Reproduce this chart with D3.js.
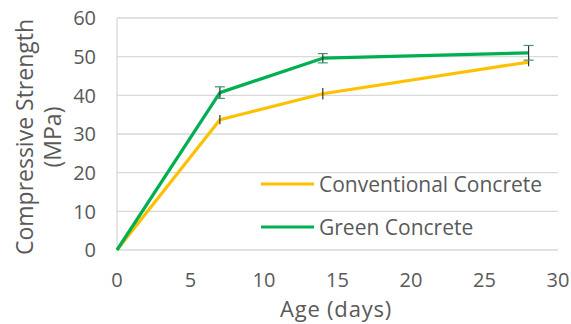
<!DOCTYPE html>
<html><head><meta charset="utf-8">
<script src="https://cdn.jsdelivr.net/npm/d3@7"></script>
<style>body{margin:0;background:#fff}text{font-family:"Open Sans",sans-serif;fill:#595959}</style>
</head><body><svg id="c" width="571" height="324"></svg>
<script>
const ages = [0, 7, 14, 28];
const conventional = [0, 33.7, 40.4, 48.6];
const conventionalErr = [0, 1.2, 1.5, 1.1];
const green = [0, 40.7, 49.6, 51.0];
const greenErr = [0, 1.5, 1.2, 1.9];
const seriesNames = ["Conventional Concrete", "Green Concrete"];
const seriesColors = ["#FFC000", "#00B050"];
const xTicks = [0, 5, 10, 15, 20, 25, 30];
const yTicks = [0, 10, 20, 30, 40, 50, 60];

const svg = d3.select("#c");
const x = d3.scaleLinear().domain([0, 30]).range([117, 558]);
const y = d3.scaleLinear().domain([0, 60]).range([250, 18]);

svg.append("g").selectAll("line").data(yTicks).join("line")
  .attr("x1", x(0)).attr("x2", x(30)).attr("y1", d => y(d)).attr("y2", d => y(d))
  .attr("stroke", "#d9d9d9").attr("stroke-width", 1.3);
svg.append("line").attr("x1", x(0)).attr("x2", x(0)).attr("y1", y(0)).attr("y2", y(60))
  .attr("stroke", "#d9d9d9").attr("stroke-width", 1.3);

svg.append("g").selectAll("text").data(yTicks).join("text")
  .attr("x", 96).attr("y", d => y(d)).attr("dy", "0.36em").attr("text-anchor", "end")
  .style("font-size", "20px").text(d => d);
svg.append("g").selectAll("text").data(xTicks).join("text")
  .attr("x", d => x(d)).attr("y", 280).attr("dy", "0.36em").attr("text-anchor", "middle")
  .style("font-size", "20px").text(d => d);

svg.append("text").attr("x", 336).attr("y", 317).attr("text-anchor", "middle")
  .style("font-size", "22px").style("letter-spacing", "0.8px").text("Age (days)");
const yt = svg.append("text").attr("transform", "translate(40,137) rotate(-90)").attr("text-anchor", "middle")
  .style("font-size", "23px");
yt.append("tspan").attr("x", 0).attr("dy", "-0.3em").text("Compressive Strength");
yt.append("tspan").attr("x", 0).attr("dy", "1.2em").text("(MPa)");

const data = [
  {vals: conventional, errs: conventionalErr, color: seriesColors[0], capOpacity: 0},
  {vals: green, errs: greenErr, color: seriesColors[1], capOpacity: 1}
];
const line = d3.line().x((d, i) => x(ages[i])).y(d => y(d));

data.forEach(s => {
  svg.append("path").datum(s.vals).attr("d", line).attr("fill", "none")
    .attr("stroke", s.color).attr("stroke-width", 3.2).attr("stroke-linejoin", "round");
});
data.forEach(s => {
  const g = svg.append("g");
  s.vals.forEach((v, i) => {
    if (s.errs[i] <= 0) return;
    const cx = x(ages[i]);
    g.append("line").attr("x1", cx).attr("x2", cx).attr("y1", y(v - s.errs[i])).attr("y2", y(v + s.errs[i]))
      .attr("stroke", "#333").attr("stroke-width", 1.2);
    [v - s.errs[i], v + s.errs[i]].forEach(e => {
      g.append("line").attr("x1", cx - 5).attr("x2", cx + 5).attr("y1", y(e)).attr("y2", y(e))
        .attr("stroke", "#3a9a6a").attr("stroke-width", 1.2).attr("opacity", s.capOpacity);
    });
  });
});

const lg = svg.append("g");
seriesNames.forEach((n, i) => {
  const ly = 184 + i * 43;
  lg.append("line").attr("x1", 261).attr("x2", 314).attr("y1", ly).attr("y2", ly)
    .attr("stroke", seriesColors[i]).attr("stroke-width", 3.2);
  lg.append("text").attr("x", 319).attr("y", ly).attr("dy", "0.36em").style("font-size", "21px").text(n);
});
</script></body></html>
